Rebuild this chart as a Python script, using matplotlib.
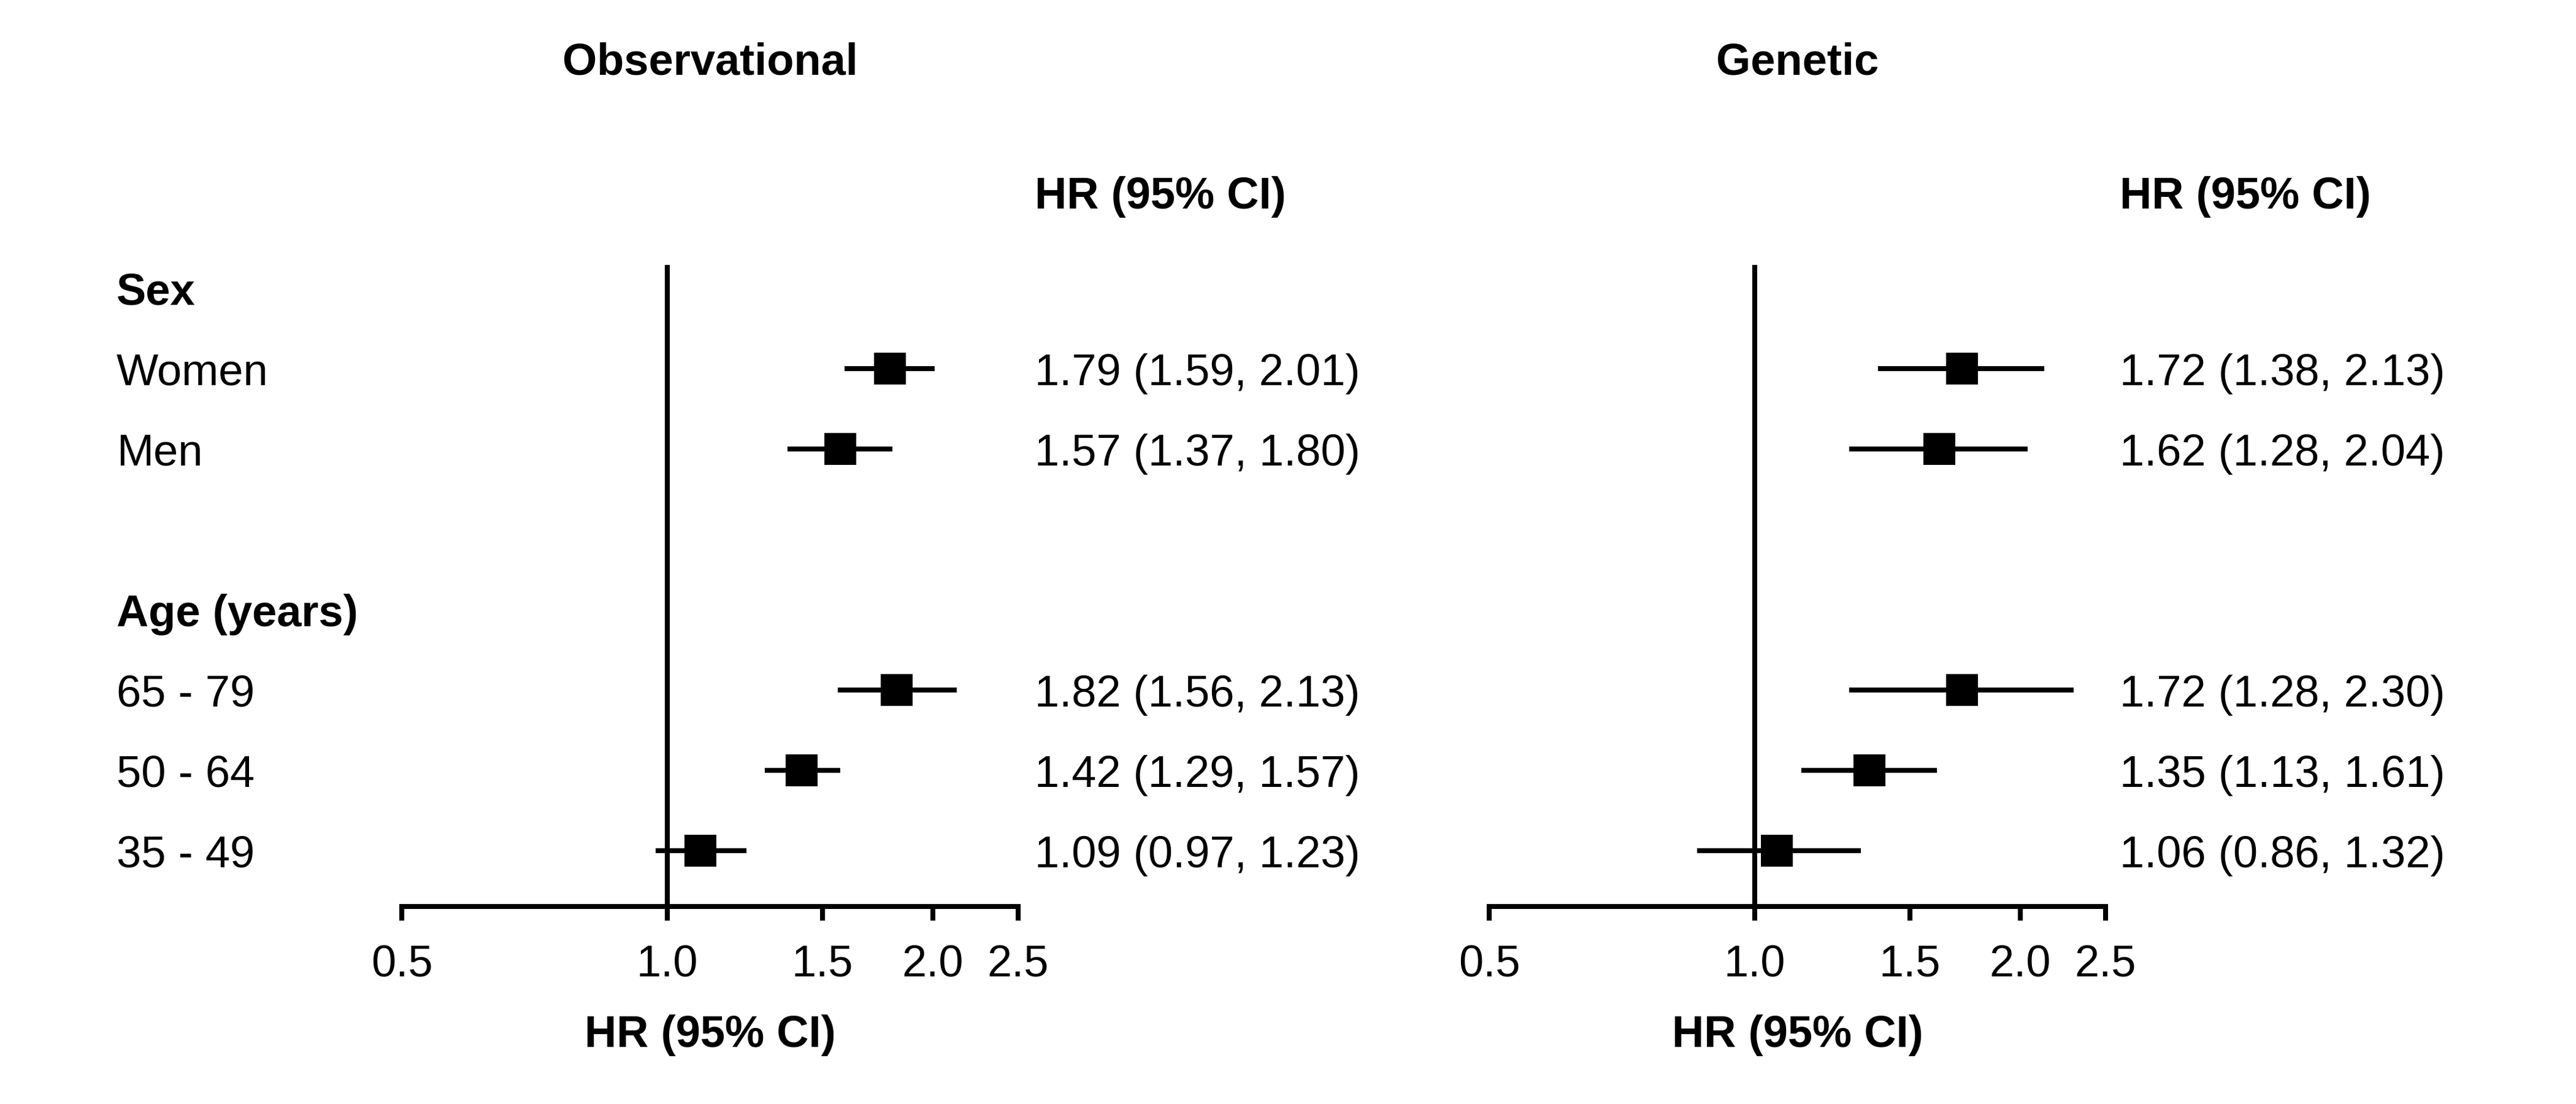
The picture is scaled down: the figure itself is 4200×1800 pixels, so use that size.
import matplotlib
matplotlib.use("Agg")
import matplotlib.pyplot as plt
import matplotlib.transforms as mtransforms
from matplotlib.ticker import NullLocator

plt.rcParams['font.family'] = ['Liberation Sans', 'DejaVu Sans']

# données
groupes = ["Sex", "Age (years)"]
sous_groupes = ["Women", "Men", "65 - 79", "50 - 64", "35 - 49"]

obs_hr = [1.79, 1.57, 1.82, 1.42, 1.09]
obs_lo = [1.59, 1.37, 1.56, 1.29, 0.97]
obs_hi = [2.01, 1.80, 2.13, 1.57, 1.23]

gen_hr = [1.72, 1.62, 1.72, 1.35, 1.06]
gen_lo = [1.38, 1.28, 1.28, 1.13, 0.86]
gen_hi = [2.13, 2.04, 2.30, 1.61, 1.32]

ticks = [0.5, 1.0, 1.5, 2.0, 2.5]
tick_labels = ["0.5", "1.0", "1.5", "2.0", "2.5"]

# mise en page (pixels sur 4200 x 1800)
W, H = 4200, 1800
row0, pas = 470, 131          # centre de la ligne "Sex" et écart entre lignes
axe_y = 1478                  # ligne de l'axe x
lignes_groupes = [0, 4]
lignes_sous = [1, 2, 5, 6, 7]
fs = 26
lw = 2.9
demi_cap = 0.206              # demi hauteur de majuscule en unités de ligne

fig = plt.figure(figsize=(21, 9), dpi=200)


def panneau(x0, titre, hr, lo, hi, x_texte):
    ax = fig.add_axes([x0 / W, (H - axe_y) / H, 1005 / W, axe_y / H])
    ax.set_xscale('log')
    ax.set_xlim(0.5, 2.5)
    ax.set_ylim((axe_y - row0) / pas, -row0 / pas)
    for s in ['left', 'right', 'top']:
        ax.spines[s].set_visible(False)
    ax.spines['bottom'].set_linewidth(lw)
    ax.set_yticks([])
    ax.set_xticks(ticks, tick_labels)
    ax.xaxis.set_minor_locator(NullLocator())
    ax.tick_params(axis='x', length=8.3, width=lw, labelsize=fs, pad=14)
    ax.set_xlabel("HR (95% CI)", fontsize=fs, fontweight='bold', labelpad=17)

    # ligne de référence
    ax.vlines(1.0, -0.29, (axe_y - row0) / pas, color='black', lw=lw)

    ax.hlines(lignes_sous, lo, hi, color='black', lw=lw)
    ax.plot(hr, lignes_sous, 's', color='black', markersize=19, markeredgewidth=0)

    trans = mtransforms.blended_transform_factory(fig.transFigure, ax.transData)
    for y, h, l, u in zip(lignes_sous, hr, lo, hi):
        ax.text(x_texte / W, y + demi_cap, f"{h:.2f} ({l:.2f}, {u:.2f})",
                transform=trans, fontsize=fs, va='baseline', ha='left')
    ax.text(x_texte / W, -1.2 + demi_cap, "HR (95% CI)", transform=trans,
            fontsize=fs, fontweight='bold', va='baseline', ha='left')
    ax.text(0.5, -2.87 + demi_cap, titre, transform=ax.get_yaxis_transform(),
            fontsize=fs, fontweight='bold', va='baseline', ha='center')
    return ax


ax1 = panneau(655, "Observational", obs_hr, obs_lo, obs_hi, 1687)
ax2 = panneau(2428, "Genetic", gen_hr, gen_lo, gen_hi, 3456)

# libellés à gauche
trans = mtransforms.blended_transform_factory(fig.transFigure, ax1.transData)
for y, t in zip(lignes_groupes, groupes):
    ax1.text(190 / W, y + demi_cap, t, transform=trans, fontsize=fs,
             fontweight='bold', va='baseline', ha='left')
for y, t in zip(lignes_sous, sous_groupes):
    ax1.text(190 / W, y + demi_cap, t, transform=trans, fontsize=fs,
             va='baseline', ha='left')

fig.savefig("out.png", dpi=200, facecolor='white')
